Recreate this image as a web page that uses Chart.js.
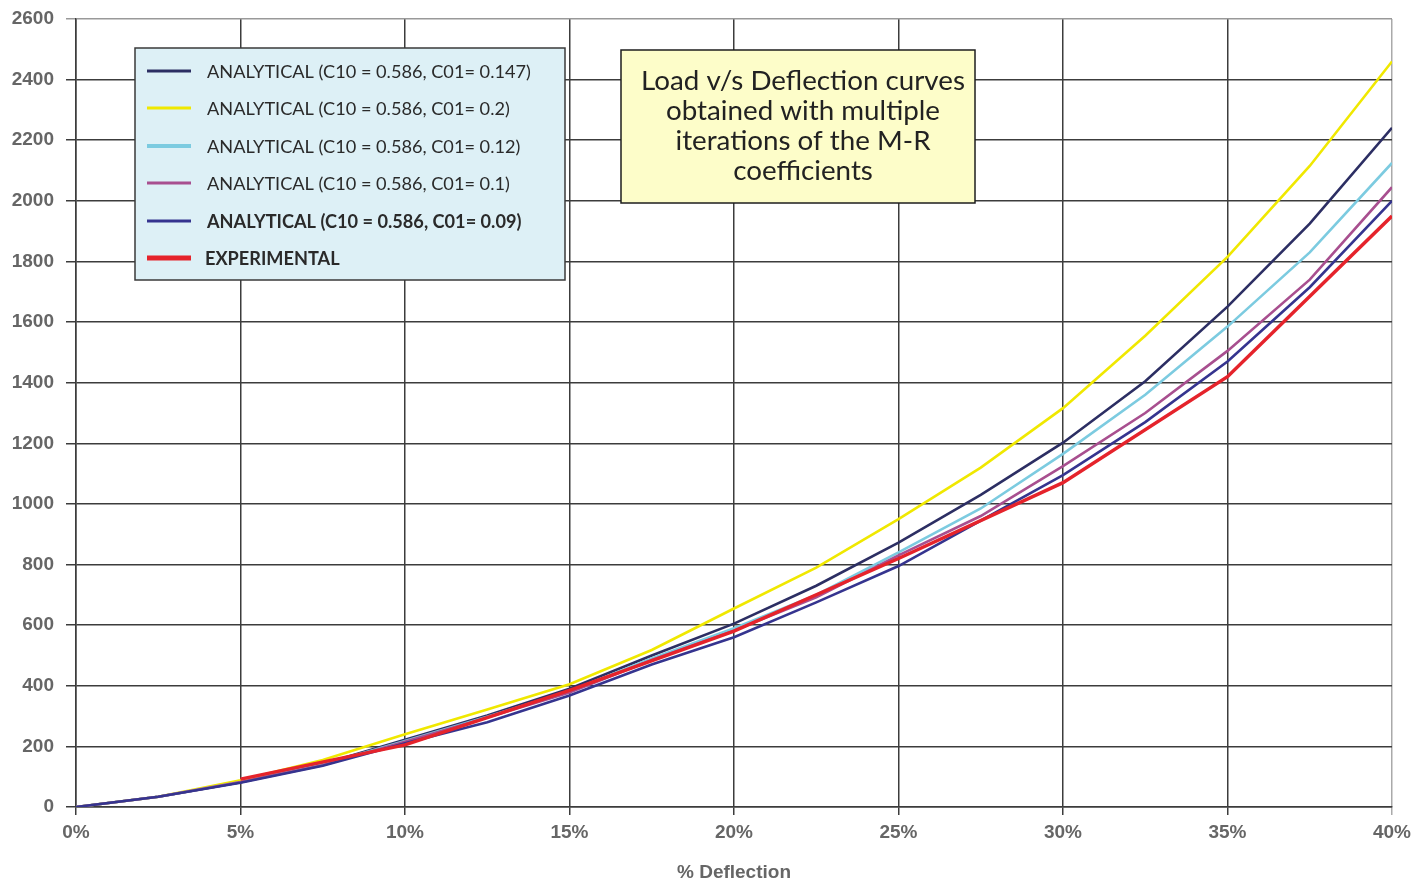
<!DOCTYPE html>
<html>
<head>
<meta charset="utf-8">
<script src="https://cdn.jsdelivr.net/npm/chart.js@4.4.0/dist/chart.umd.min.js"></script>
<style>
  body { margin: 0; background: #fff; }
  #wrap { width: 1414px; height: 883px; }
</style>
</head>
<body>
<div id="wrap"><canvas id="myChart" width="1414" height="883"></canvas></div>
<script>
// % deflection for the analytical curves
var deflection = [0, 2.5, 5, 7.5, 10, 12.5, 15, 17.5, 20, 22.5, 25, 27.5, 30, 32.5, 35, 37.5, 40];
var load_c01_0147 = [0, 34, 82, 142, 222, 302, 390, 500, 605, 730, 872, 1030, 1202, 1405, 1651, 1925, 2241];
var load_c01_02   = [0, 34, 88, 155, 240, 322, 405, 518, 655, 790, 950, 1120, 1316, 1555, 1815, 2115, 2460];
var load_c01_012  = [0, 34, 82, 140, 218, 298, 382, 490, 590, 700, 840, 985, 1165, 1360, 1585, 1830, 2125];
var load_c01_01   = [0, 34, 82, 138, 215, 295, 378, 485, 582, 692, 830, 960, 1125, 1300, 1505, 1740, 2045];
var load_c01_009  = [0, 34, 80, 136, 210, 280, 368, 470, 560, 675, 795, 945, 1095, 1270, 1470, 1715, 2000];

// experimental points
var expDeflection = [5, 10, 15, 20, 25, 30, 35, 40];
var load_exp      = [92, 205, 385, 580, 820, 1070, 1420, 1950];

var seriesLabels = [
  'ANALYTICAL (C10 = 0.586, C01= 0.147)',
  'ANALYTICAL (C10 = 0.586, C01= 0.2)',
  'ANALYTICAL (C10 = 0.586, C01= 0.12)',
  'ANALYTICAL (C10 = 0.586, C01= 0.1)',
  'ANALYTICAL (C10 = 0.586, C01= 0.09)',
  'EXPERIMENTAL'
];
var seriesColors = ['#2c2e63', '#f0e800', '#7ccbe0', '#a84f8f', '#35348f', '#e5232b'];
var seriesWidths = [2.6, 2.6, 2.6, 2.6, 2.6, 3.5];
var noteLines = ['Load v/s Deflection curves', 'obtained with multiple', 'iterations of the M-R', 'coefficients'];

function pts(xs, ys) {
  var out = [];
  for (var i = 0; i < xs.length; i++) out.push({x: xs[i], y: ys[i]});
  return out;
}

var allLoads = [load_c01_0147, load_c01_02, load_c01_012, load_c01_01, load_c01_009, load_exp];
var datasets = [];
for (var i = 0; i < allLoads.length; i++) {
  var xs = (i === 5) ? expDeflection : deflection;
  datasets.push({
    label: seriesLabels[i],
    data: pts(xs, allLoads[i]),
    borderColor: seriesColors[i],
    backgroundColor: seriesColors[i],
    borderWidth: seriesWidths[i],
    pointRadius: 0,
    tension: 0,
    fill: false,
    order: 6 - i
  });
}

function fitFont(ctx, text, target, weight, family) {
  var size = 20;
  ctx.font = weight + ' ' + size + 'px ' + family;
  var w = ctx.measureText(text).width;
  return size * target / w;
}

// legend box + note box, drawn over the plot
var boxesPlugin = {
  id: 'boxes',
  afterDraw: function (chart) {
    var ctx = chart.ctx;
    ctx.save();
    // legend
    ctx.fillStyle = '#ddf0f6';
    ctx.fillRect(135, 48, 430, 232);
    ctx.strokeStyle = '#3a3a3a';
    ctx.lineWidth = 1.5;
    ctx.strokeRect(135, 48, 430, 232);
    var fam = 'Lato, "Noto Sans", sans-serif';
    var fs = fitFont(ctx, seriesLabels[0], 324, '400', fam);
    var ys = [71, 108, 146, 183, 221, 258];
    for (var i = 0; i < seriesLabels.length; i++) {
      ctx.strokeStyle = seriesColors[i];
      ctx.lineWidth = (i === 5) ? 5 : (i === 2 ? 4 : 3);
      ctx.beginPath();
      ctx.moveTo(147, ys[i]);
      ctx.lineTo(191, ys[i]);
      ctx.stroke();
      ctx.fillStyle = '#2a2a2a';
      ctx.font = ((i >= 4) ? '700 ' : '400 ') + fs + 'px ' + fam;
      ctx.textBaseline = 'middle';
      ctx.textAlign = 'left';
      ctx.fillText(seriesLabels[i], i === 5 ? 205 : 207, ys[i] + 1);
    }
    // note
    ctx.fillStyle = '#fdfdc9';
    ctx.fillRect(621, 50, 354, 153);
    ctx.strokeStyle = '#1e1e1e';
    ctx.lineWidth = 1.5;
    ctx.strokeRect(621, 50, 354, 153);
    var ns = fitFont(ctx, noteLines[0], 324, '400', fam);
    ctx.font = '400 ' + ns + 'px ' + fam;
    ctx.fillStyle = '#222';
    ctx.textAlign = 'center';
    for (var j = 0; j < noteLines.length; j++) {
      ctx.fillText(noteLines[j], 803, 81 + j * 30);
    }
    ctx.restore();
  }
};

var tickFont = {family: '"Liberation Sans", Arial, sans-serif', size: 19, weight: 'bold'};

var ctx = document.getElementById('myChart').getContext('2d');
var chart = new Chart(ctx, {
  type: 'line',
  data: { datasets: datasets },
  options: {
    responsive: false,
    animation: false,
    layout: { padding: { top: 19, right: 22, left: 0, bottom: 0 } },
    plugins: { legend: { display: false }, tooltip: { enabled: false } },
    scales: {
      x: {
        type: 'linear',
        min: 0, max: 40,
        ticks: {
          stepSize: 5,
          color: '#666',
          font: tickFont,
          padding: 6,
          callback: function (v) { return v + '%'; }
        },
        grid: {
          color: function (c) { return c.index === 8 ? '#aaa' : '#3c3c3c'; },
          lineWidth: 1.5,
          tickLength: 8
        },
        border: { color: '#3c3c3c', width: 1.5 },
        title: {
          display: true,
          text: '% Deflection',
          color: '#666',
          font: tickFont,
          padding: { top: 4, bottom: -1 }
        },
        afterFit: function (s) {
          s.height = 883 - 807;
          s.paddingLeft = 0;
          s.paddingRight = 0;
        }
      },
      y: {
        min: 0, max: 2600,
        ticks: {
          stepSize: 200, color: '#666', font: tickFont, padding: 12,
          callback: function (v) { return String(v); }
        },
        grid: {
          color: function (c) { return c.index === 13 ? '#999' : '#3c3c3c'; },
          lineWidth: 1.5,
          tickLength: 10
        },
        border: { color: '#3c3c3c', width: 1.5 },
        afterFit: function (s) {
          s.width = 76;
          s.paddingTop = 0;
          s.paddingBottom = 0;
        }
      }
    }
  },
  plugins: [boxesPlugin]
});
</script>
</body>
</html>
